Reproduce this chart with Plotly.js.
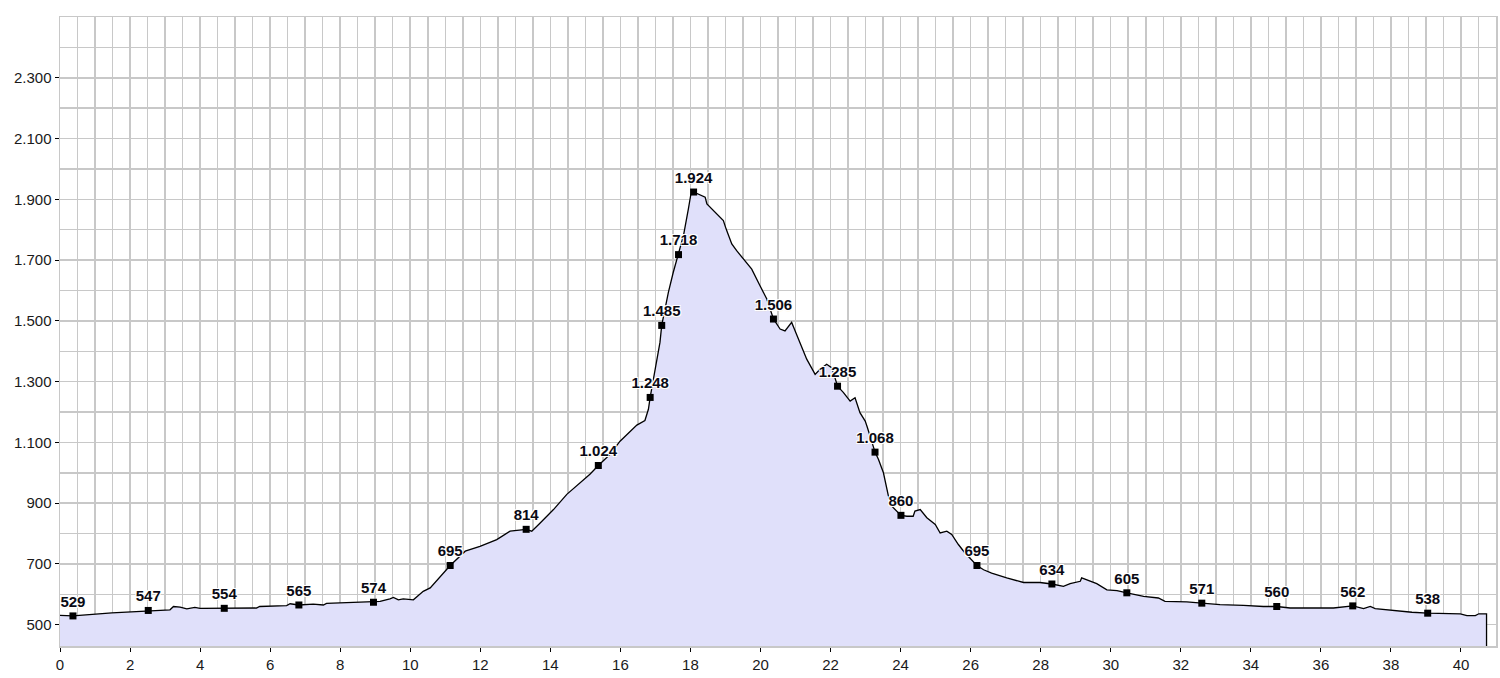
<!DOCTYPE html>
<html>
<head>
<meta charset="utf-8">
<script src="https://cdn.plot.ly/plotly-3.0.1.min.js"></script>
<style>html,body{margin:0;padding:0;background:#fff;}#chart{width:1500px;height:678px;}</style>
</head>
<body>
<div id="chart"></div>
<script>
// Elevation profile: distance (km) and elevation (m)
var distKm = [0, 0.37, 1.48, 2.0, 2.52, 3.14, 3.24, 3.43, 3.62, 3.85, 4.0, 4.69, 5.61, 5.7, 6.47, 6.57, 6.82, 7.23, 7.52, 7.61, 8.61, 8.95, 9.14, 9.42, 9.52, 9.66, 9.8, 10.09, 10.37, 10.57, 10.85, 11.14, 11.57, 11.99, 12.47, 12.85, 13.31, 13.47, 13.71, 14.09, 14.47, 14.9, 15.13, 15.37, 15.7, 15.99, 16.28, 16.47, 16.7, 16.8, 16.85, 16.94, 17.04, 17.13, 17.18, 17.28, 17.37, 17.51, 17.66, 17.8, 17.94, 18.01, 18.09, 18.18, 18.42, 18.47, 18.7, 18.94, 19.02, 19.18, 19.32, 19.51, 19.75, 19.99, 20.18, 20.37, 20.56, 20.7, 20.8, 20.89, 20.99, 21.13, 21.32, 21.56, 21.7, 21.89, 22.04, 22.2, 22.37, 22.56, 22.7, 22.84, 22.99, 23.05, 23.27, 23.37, 23.51, 23.65, 23.75, 24.01, 24.18, 24.36, 24.41, 24.56, 24.75, 24.99, 25.13, 25.32, 25.46, 25.65, 25.84, 26.18, 26.37, 26.6, 27.03, 27.51, 27.98, 28.32, 28.65, 28.84, 29.13, 29.17, 29.32, 29.6, 29.89, 30.18, 30.46, 30.94, 31.36, 31.55, 32.17, 32.6, 33.12, 33.79, 34.36, 34.74, 35.12, 36.36, 36.74, 36.91, 37.22, 37.41, 37.55, 38.07, 38.6, 39.05, 39.98, 40.17, 40.41, 40.51, 40.73];
var elevM = [531, 529, 539, 542, 547, 549, 560, 558, 552, 557, 554, 554, 555, 560, 563, 569, 565, 568, 565, 570, 573, 574, 577, 585, 590, 582, 585, 582, 610, 621, 656, 695, 742, 758, 780, 808, 814, 808, 835, 879, 929, 972, 995, 1024, 1060, 1104, 1135, 1157, 1172, 1209, 1248, 1308, 1374, 1429, 1485, 1549, 1594, 1660, 1718, 1780, 1868, 1915, 1924, 1920, 1907, 1885, 1857, 1830, 1802, 1753, 1731, 1703, 1670, 1615, 1572, 1506, 1473, 1467, 1484, 1495, 1467, 1426, 1374, 1324, 1341, 1357, 1345, 1285, 1264, 1236, 1247, 1198, 1170, 1150, 1068, 1044, 1000, 925, 890, 860, 857, 857, 874, 879, 852, 830, 802, 808, 797, 764, 736, 695, 681, 670, 654, 639, 639, 634, 626, 635, 643, 654, 647, 635, 615, 612, 605, 593, 588, 577, 575, 571, 566, 564, 560, 560, 555, 555, 560, 562, 553, 560, 553, 546, 541, 538, 536, 530, 530, 536, 536];

// Labelled waypoints
var labelKm = [0.37, 2.52, 4.69, 6.82, 8.95, 11.14, 13.31, 15.37, 16.85, 17.18, 17.66, 18.09, 20.37, 22.2, 23.27, 24.01, 26.18, 28.32, 30.46, 32.6, 34.74, 36.91, 39.05];
var labelElev = [529, 547, 554, 565, 574, 695, 814, 1024, 1248, 1485, 1718, 1924, 1506, 1285, 1068, 860, 695, 634, 605, 571, 560, 562, 538];

// Axis tick labels
var yTickVals = [500, 700, 900, 1100, 1300, 1500, 1700, 1900, 2100, 2300];
var xTickVals = [0, 2, 4, 6, 8, 10, 12, 14, 16, 18, 20, 22, 24, 26, 28, 30, 32, 34, 36, 38, 40];

// profile closes down to the base at the final distance
var profX = distKm.concat([distKm[distKm.length - 1]]);
var profY = elevM.concat([0]);

var gridColor = '#c8c8c8';
var tickFont = {family: 'Liberation Sans, Arial, sans-serif', size: 15, color: '#1a1a1a'};

var traces = [
  {
    x: profX, y: profY, type: 'scatter', mode: 'lines',
    fill: 'tozeroy', fillcolor: 'rgb(224,224,250)',
    line: {color: '#000', width: 1.3},
    hoverinfo: 'skip', showlegend: false
  },
  {
    x: labelKm, y: labelElev, type: 'scatter', mode: 'markers+text',
    marker: {symbol: 'square', size: 7, color: '#000'},
    texttemplate: '%{y:,.0f}', textposition: 'top center',
    textfont: {family: 'Liberation Sans, Arial, sans-serif', size: 15, color: '#0a0a14', weight: 'bold',
      shadow: '1px 1px 0 #fff, -1px -1px 0 #fff, 1px -1px 0 #fff, -1px 1px 0 #fff, 0 1px 1px #ffd27a'},
    showlegend: false
  }
];

var layout = {
  width: 1500, height: 678,
  margin: {l: 60, r: 4, t: 17, b: 32},
  paper_bgcolor: '#fff', plot_bgcolor: '#fff',
  separators: ',.',
  showlegend: false,
  xaxis: {
    range: [0, 41], tickmode: 'array', tickvals: xTickVals, tickformat: 'd',
    showgrid: true, gridcolor: gridColor, gridwidth: 1.5,
    minor: {tickmode: 'linear', tick0: 0, dtick: 0.5, showgrid: true, gridcolor: gridColor, gridwidth: 1.5},
    ticks: 'outside', ticklen: 4, tickcolor: '#000', tickwidth: 1,
    showline: true, linecolor: gridColor, linewidth: 1.5, mirror: true,
    zeroline: false, tickfont: tickFont
  },
  yaxis: {
    range: [430, 2500], tickmode: 'array', tickvals: yTickVals, tickformat: ',.0f',
    showgrid: true, gridcolor: gridColor, gridwidth: 1.5,
    minor: {tickmode: 'linear', tick0: 500, dtick: 100, showgrid: true, gridcolor: gridColor, gridwidth: 1.5},
    ticks: 'outside', ticklen: 4, tickcolor: '#000', tickwidth: 1,
    showline: true, linecolor: gridColor, linewidth: 1.5, mirror: true,
    zeroline: false, tickfont: tickFont
  }
};

Plotly.newPlot('chart', traces, layout, {displayModeBar: false, staticPlot: true});
</script>
</body>
</html>
